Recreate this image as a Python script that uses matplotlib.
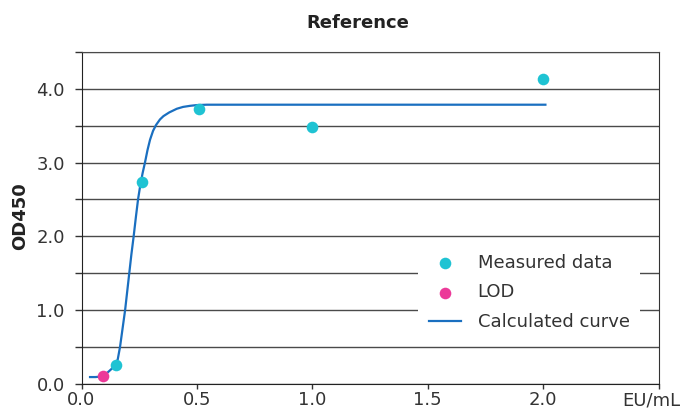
import matplotlib
matplotlib.use("Agg")
import matplotlib.pyplot as plt

# measured standards (EU/mL, OD450)
measured_x = [0.15, 0.26, 0.51, 1.0, 2.0]
measured_y = [0.25, 2.74, 3.72, 3.48, 4.14]

# limit of detection
lod_x = [0.095]
lod_y = [0.11]

# fitted curve
curve_x = [0.037, 0.06, 0.08, 0.10, 0.116, 0.13, 0.145, 0.157, 0.167, 0.178, 0.189,
           0.198, 0.207, 0.216, 0.226, 0.236, 0.245, 0.255, 0.265, 0.275, 0.286,
           0.297, 0.31, 0.323, 0.34, 0.355, 0.38, 0.413, 0.44, 0.471, 0.50, 0.543,
           0.6, 1.0, 1.5, 2.01]
curve_y = [0.09, 0.09, 0.095, 0.12, 0.16, 0.20, 0.25, 0.33, 0.50, 0.75, 1.00,
           1.25, 1.50, 1.75, 2.00, 2.27, 2.50, 2.70, 2.86, 3.00, 3.17,
           3.31, 3.43, 3.51, 3.585, 3.63, 3.68, 3.73, 3.755, 3.77, 3.78, 3.785,
           3.785, 3.785, 3.785, 3.785]

xticks = [0.0, 0.5, 1.0, 1.5, 2.0, 2.5]
xticklabels = ["0.0", "0.5", "1.0", "1.5", "2.0", ""]
yticks = [0.0, 1.0, 2.0, 3.0, 4.0]
yticklabels = ["0.0", "1.0", "2.0", "3.0", "4.0"]

c_meas = "#1fc3d3"
c_lod = "#ec3a99"
c_curve = "#1a6fc0"
txt = "#333333"

plt.rcParams["font.family"] = ["DejaVu Sans"]
plt.rcParams["font.size"] = 13

fig = plt.figure(figsize=(6.84, 4.08), dpi=100)
ax = fig.add_axes([81.5 / 684, 24.3 / 408, 577 / 684, 331.7 / 408])

ax.plot(curve_x, curve_y, color=c_curve, lw=1.6, label="Calculated curve", zorder=3)
ax.scatter(measured_x, measured_y, s=70, color=c_meas, label="Measured data", zorder=4,
           linewidths=0)
ax.scatter(lod_x, lod_y, s=70, color=c_lod, label="LOD", zorder=4, linewidths=0)

ax.set_xlim(0, 2.5)
ax.set_ylim(0, 4.5)
ax.set_xticks(xticks)
ax.set_xticklabels(xticklabels, color=txt)
ax.set_yticks(yticks)
ax.set_yticklabels(yticklabels, color=txt)
ax.set_yticks([0.5, 1.5, 2.5, 3.5, 4.5], minor=True)
ax.tick_params(axis="y", which="both", length=5, width=1, color="#333333", pad=7)
ax.tick_params(axis="x", length=3.6, width=1, color="#333333", pad=2)
ax.grid(axis="y", which="both", color="#4a4a4a", lw=1.0)
ax.set_axisbelow(True)

for side in ["left", "bottom"]:
    ax.spines[side].set_color("#222222")
ax.spines["right"].set_color("#333333")
ax.spines["top"].set_color("#4a4a4a")

ax.annotate("EU/mL", xy=(2.5, 0), xycoords=("data", "axes fraction"),
            xytext=(-5, -5.5), textcoords="offset points", ha="center", va="top",
            color=txt)

handles, labels = ax.get_legend_handles_labels()
order = [1, 2, 0]
leg = ax.legend([handles[i] for i in order], [labels[i] for i in order],
                loc="upper left", bbox_to_anchor=(418 / 684, (408 - 243) / 408),
                bbox_transform=fig.transFigure, frameon=True, fancybox=False,
                edgecolor="none", facecolor="white", framealpha=1,
                handlelength=1.8, handletextpad=0.9, labelspacing=0.64,
                borderpad=0.6, borderaxespad=0)
for t in leg.get_texts():
    t.set_color(txt)

fig.text(357.5 / 684, (408 - 23) / 408, "Reference", ha="center", va="center",
         fontweight="bold", color="#222222")
fig.text(20 / 684, 0.47, "OD450", ha="center", va="center", rotation=90,
         fontweight="bold", color="#222222")

fig.savefig("out.png", dpi=100)
